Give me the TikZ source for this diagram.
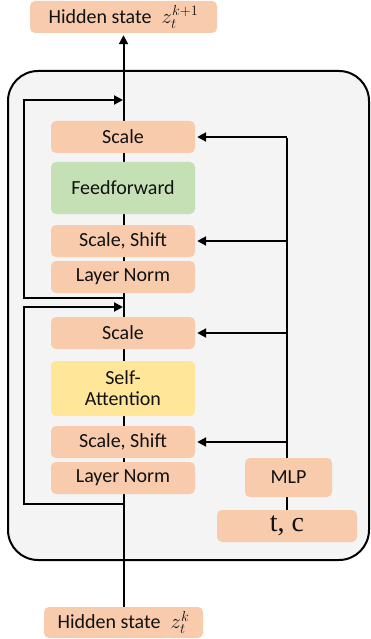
\documentclass[tikz,border=0pt]{standalone}
\usepackage{fontspec}
\newfontfamily\carl{Carlito}
\newfontfamily\tserif{Liberation Serif}
\usetikzlibrary{arrows.meta}
\pgfdeclarelayer{bgzero}
\pgfdeclarelayer{bgone}
\pgfsetlayers{bgzero,bgone,main}
\definecolor{salmon}{HTML}{F8CBAD}
\definecolor{ffgreen}{HTML}{C5E0B4}
\definecolor{sayellow}{HTML}{FFE699}
\definecolor{panel}{HTML}{F4F4F4}
\definecolor{ink}{HTML}{111111}
\tikzset{
  blk/.style={draw=none, fill=salmon, rounded corners=5pt, inner sep=0pt,
    font=\carl\fontsize{20}{22}\selectfont, text=ink, align=center},
  arr/.style={line width=2pt, -{Triangle[length=9pt,width=9pt]}},
  ln/.style={line width=2pt},
}
\begin{document}
\begin{tikzpicture}[x=1pt,y=-1pt]
\useasboundingbox (0,0) rectangle (371,639);
% nodes
\node[blk, minimum width=187pt, minimum height=32pt] (top) at (123.5,17) {Hidden state\; $z_t^{k+1}$};
\node[blk, minimum width=144pt, minimum height=32pt] (sc1) at (123,137) {Scale};
\node[blk, fill=ffgreen, minimum width=144pt, minimum height=52pt] (ff) at (123,188) {Feedforward};
\node[blk, minimum width=144pt, minimum height=32pt] (ss1) at (123,241) {Scale, Shift};
\node[blk, minimum width=144pt, minimum height=32pt] (ln1) at (123,277) {Layer Norm};
\node[blk, minimum width=144pt, minimum height=32pt] (sc2) at (123,333) {Scale};
\node[blk, fill=sayellow, minimum width=144pt, minimum height=55pt] (sa) at (123,388.5) {Self-\\[-1pt]Attention};
\node[blk, minimum width=144pt, minimum height=32pt] (ss2) at (123,442) {Scale, Shift};
\node[blk, minimum width=144pt, minimum height=32pt] (ln2) at (123,478) {Layer Norm};
\node[blk, minimum width=87pt, minimum height=39pt] (mlp) at (288.5,477.5) {MLP};
\node[blk, font=\tserif\fontsize{28}{30}\selectfont, minimum width=140pt, minimum height=32pt] (tc) at (287,526) {t, c};
\node[blk, minimum width=159pt, minimum height=31pt] (bot) at (123.5,622.5) {Hidden state\; $z_t^{k}$};
% coordinates
\coordinate (ra1) at (123,298);
\coordinate (rl1) at (24,298);
\coordinate (rt1) at (24,100);
\coordinate (re1) at (123,100);
\coordinate (ra2) at (123,504);
\coordinate (rl2) at (24,504);
\coordinate (rt2) at (24,307);
\coordinate (re2) at (123,307);
\coordinate (jt) at (287,137);
\coordinate (j1) at (287,241);
\coordinate (j2) at (287,333);
\coordinate (j3) at (287,442);
\begin{pgfonlayer}{bgzero}
\draw[line width=2pt, fill=panel, rounded corners=30pt] (8,71) rectangle (369,560);
\end{pgfonlayer}
\begin{pgfonlayer}{bgone}
\draw[arr] (bot.north) -- ([yshift=-2pt]top.south);
\draw[ln] (ra1) -- (rl1) -- (rt1);
\draw[arr] ([yshift=1pt]rt1) |- (re1);
\draw[ln] (ra2) -- (rl2) -- (rt2);
\draw[arr] ([yshift=-1pt]rl2) |- (re2);
\draw[ln] (287,458) -- ([yshift=-1pt]jt);
\draw[ln] (mlp.south -| tc.north) -- (tc.north);
\end{pgfonlayer}
\draw[arr] (jt) -- ([xshift=2pt]sc1.east);
\draw[arr] (j1) -- ([xshift=2pt]ss1.east);
\draw[arr] (j2) -- ([xshift=2pt]sc2.east);
\draw[arr] (j3) -- ([xshift=2pt]ss2.east);
\end{tikzpicture}
\end{document}
